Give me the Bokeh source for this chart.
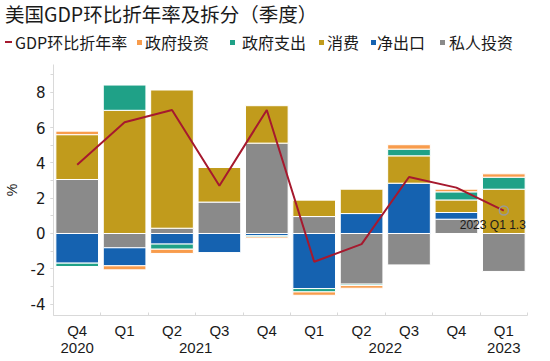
from bokeh.plotting import figure
from bokeh.layouts import column
from bokeh.models import (Range1d, ColumnDataSource, SingleIntervalTicker, FixedTicker,
                          LinearAxis, PrintfTickFormatter, Div)
from bokeh.embed import file_html
from bokeh.resources import INLINE
from bokeh.core.properties import value

# ---- data ----
years = ["2020", "2021", "2021", "2021", "2021", "2022", "2022", "2022", "2022", "2023"]
quarters = ["Q4", "Q1", "Q2", "Q3", "Q4", "Q1", "Q2", "Q3", "Q4", "Q1"]
gdp = [3.9, 6.3, 7.0, 2.7, 7.0, -1.6, -0.6, 3.2, 2.6, 1.3]
private_inv = [3.06, -0.81, 0.30, 1.78, 5.12, 0.96, -2.87, -1.78, 0.81, -2.15]
net_exports = [-1.68, -1.02, -0.60, -1.08, -0.13, -3.12, 1.13, 2.85, 0.38, 0.0]
consumption = [2.54, 6.98, 7.83, 1.98, 2.12, 0.93, 1.38, 1.55, 0.71, 2.51]
gov_spend = [-0.19, 1.43, -0.29, 0.0, -0.07, -0.19, -0.08, 0.38, 0.46, 0.68]
gov_inv = [0.20, -0.23, -0.24, 0.0, -0.08, -0.19, -0.15, 0.25, 0.15, 0.19]

title_text = "美国GDP环比折年率及拆分（季度）"
names = {"gdp": "GDP环比折年率", "gov_inv": "政府投资", "gov_spend": "政府支出",
         "cons": "消费", "netx": "净出口", "priv": "私人投资"}
colors = {"gov_inv": "#f89c4c", "gov_spend": "#1fa187", "cons": "#c19b1c",
          "netx": "#1562b0", "priv": "#8a8a8a", "gdp": "#a6192e"}

CJK = "Noto Sans CJK SC"
SANS = "Liberation Sans"
TXT = "#1a1a1a"
AXC = "#d9d9d9"

n = len(quarters)
idx = list(range(n))

W = 534
HDR_H = 54
MAIN_H = 291

# ---------------- header: title + legend (HTML, absolute pixel layout) ----------------
LEG_CY = 37
sw_keys = ["gov_inv", "gov_spend", "cons", "netx", "priv"]
sw_left = [132, 225, 314, 366, 435]
lab_keys = ["gdp"] + sw_keys
lab_left = [10, 140, 237, 322, 372, 444]

parts = [f'<div style="position:relative;width:{W}px;height:{HDR_H}px;'
         f'font-family:\'{CJK}\';color:{TXT};">']
parts.append(f'<span style="position:absolute;left:0px;top:-1px;font-size:19.5px;'
             f'line-height:20px;white-space:nowrap;">{title_text}</span>')
parts.append(f'<span style="position:absolute;left:0px;top:{LEG_CY - 1}px;width:7px;height:2px;'
             f'background:{colors["gdp"]};"></span>')
for k, left in zip(sw_keys, sw_left):
    parts.append(f'<span style="position:absolute;left:{left}px;top:{LEG_CY - 2.5}px;'
                 f'width:5px;height:5px;background:{colors[k]};"></span>')
for k, left in zip(lab_keys, lab_left):
    parts.append(f'<span style="position:absolute;left:{left}px;top:{LEG_CY - 10}px;'
                 f'font-size:16px;line-height:20px;white-space:nowrap;">{names[k]}</span>')
parts.append('</div>')
hdr = Div(text="".join(parts), width=W, height=HDR_H)

# ---------------- main chart ----------------
p = figure(width=W, height=MAIN_H, title=None,
           x_range=Range1d(-0.5, n - 0.5), y_range=Range1d(-4.646, 9.575),
           output_backend="svg", toolbar_location=None, x_axis_location=None,
           min_border_left=47, min_border_right=7, min_border_bottom=40, min_border_top=0)

p.outline_line_color = None
p.xgrid.visible = False
p.ygrid.visible = False
p.background_fill_color = "white"
p.border_fill_color = "white"

# stacked bars, positives and negatives stacked separately
stack_order = [("priv", private_inv), ("netx", net_exports), ("cons", consumption),
               ("gov_spend", gov_spend), ("gov_inv", gov_inv)]
pos = [0.0] * n
neg = [0.0] * n
for key, vals in stack_order:
    bottoms, tops = [], []
    for i, v in enumerate(vals):
        if v >= 0:
            b = pos[i]; t = b + v; pos[i] = t
        else:
            b = neg[i]; t = b + v; neg[i] = t
        bottoms.append(b); tops.append(t)
    src = ColumnDataSource(dict(x=idx, bottom=bottoms, top=tops))
    p.vbar(x="x", bottom="bottom", top="top", width=0.9, source=src,
           fill_color=colors[key], line_color="white", line_width=1)

line_src = ColumnDataSource(dict(x=idx, y=gdp))
p.line(x="x", y="y", source=line_src, line_color=colors["gdp"], line_width=2)

# highlight last point
last_src = ColumnDataSource(dict(x=[idx[-1]], y=[gdp[-1]],
                                 t=[f"{years[-1]} {quarters[-1]} {gdp[-1]}"]))
p.scatter(x="x", y="y", source=last_src, size=9, fill_color=None,
          line_color="#999999", line_width=1.5)
p.text(x="x", y="y", text="t", source=last_src, x_offset=-11, y_offset=14,
       text_align="center", text_baseline="middle", text_font_size="12px",
       text_font=value(SANS), text_color=TXT)

# y axis
yax = p.yaxis[0]
yax.ticker = SingleIntervalTicker(interval=2, num_minor_ticks=2)
yax.formatter = PrintfTickFormatter(format="%d")
yax.axis_line_color = AXC
yax.major_tick_line_color = AXC
yax.minor_tick_line_color = AXC
yax.major_tick_out = 3
yax.major_tick_in = 0
yax.minor_tick_out = 3
yax.minor_tick_in = 0
yax.major_label_text_font_size = "15px"
yax.major_label_text_font = "DejaVu Sans"
yax.major_label_text_color = TXT
yax.major_label_standoff = 5
yax.axis_label = "%"
yax.axis_label_text_font_size = "14px"
yax.axis_label_text_font_style = "normal"
yax.axis_label_text_font = SANS
yax.axis_label_text_color = TXT
yax.axis_label_standoff = 8

# x axis: quarters
q_axis = LinearAxis(ticker=FixedTicker(ticks=idx, minor_ticks=[i + 0.5 for i in [-1] + idx]),
                    major_label_overrides={i: q for i, q in zip(idx, quarters)})
q_axis.axis_line_color = AXC
q_axis.major_tick_line_color = None
q_axis.major_tick_out = 0
q_axis.major_tick_in = 0
q_axis.minor_tick_line_color = AXC
q_axis.minor_tick_out = 0
q_axis.minor_tick_in = 3
q_axis.major_label_text_font_size = "15px"
q_axis.major_label_text_font = SANS
q_axis.major_label_text_color = TXT
q_axis.major_label_standoff = 6
p.add_layout(q_axis, "below")

# x axis: years (centred under their quarters)
year_list = sorted(set(years))
year_pos = [sum(i for i in idx if years[i] == y) / years.count(y) for y in year_list]
y_axis2 = LinearAxis(ticker=FixedTicker(ticks=year_pos, minor_ticks=[]),
                     major_label_overrides={pp: y for pp, y in zip(year_pos, year_list)})
y_axis2.axis_line_color = None
y_axis2.major_tick_line_color = None
y_axis2.minor_tick_line_color = None
y_axis2.major_tick_out = 0
y_axis2.major_tick_in = 0
y_axis2.minor_tick_out = 0
y_axis2.minor_tick_in = 0
y_axis2.major_label_text_font_size = "15px"
y_axis2.major_label_text_font = SANS
y_axis2.major_label_text_color = TXT
y_axis2.major_label_standoff = 1
p.add_layout(y_axis2, "below")

layout = column(hdr, p, spacing=0)
open("out.html", "w").write(file_html(layout, INLINE))
